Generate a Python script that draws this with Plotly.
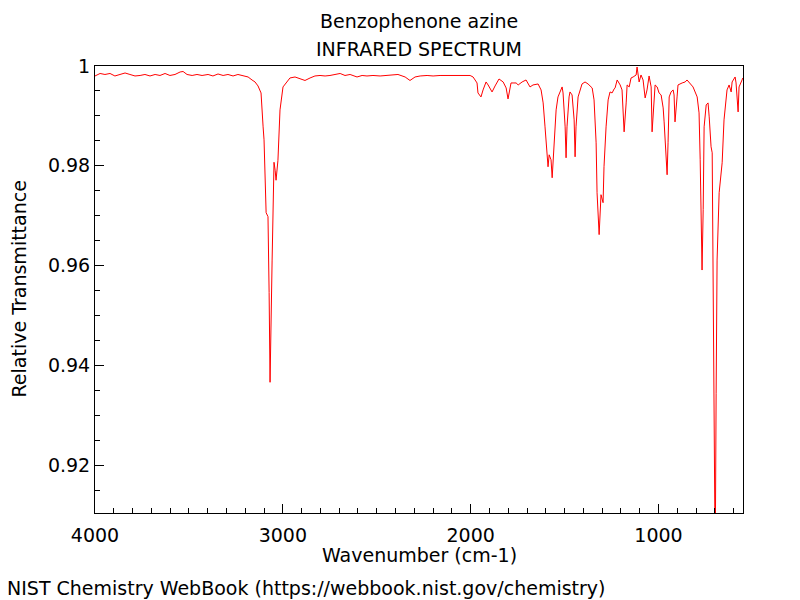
import plotly.graph_objects as go

# Wavenumber (cm-1) and relative transmittance
wavenumber = [
    4000, 3973, 3947, 3920, 3894, 3867, 3840, 3814, 3787, 3760,
    3734, 3707, 3680, 3654, 3627, 3601, 3574, 3547, 3531, 3510,
    3483, 3457, 3430, 3398, 3372, 3345, 3318, 3292, 3265, 3239,
    3212, 3185, 3164,
    3148, 3132, 3116, 3105, 3100, 3089, 3079, 3073, 3068, 3057, 3052, 3047, 3041, 3036,
    3026, 3015, 2999, 2978,
    2962, 2935, 2908, 2882, 2855, 2829, 2802, 2775, 2749, 2722,
    2695, 2669, 2642, 2605, 2578, 2552, 2520, 2482, 2445, 2413,
    2387, 2349, 2323, 2296, 2269, 2232, 2200, 2163, 2126, 2094,
    2056, 2030, 2003, 1987,
    1966, 1961, 1945, 1934, 1918, 1907, 1886, 1870, 1849, 1827,
    1811, 1801, 1795, 1785, 1774, 1758, 1747, 1726, 1705, 1694, 1684, 1668, 1641, 1625,
    1614, 1604, 1593, 1588, 1582, 1572, 1566, 1556, 1545, 1535, 1513, 1508, 1497, 1492,
    1487, 1476, 1471, 1460, 1449, 1444, 1439, 1428, 1407, 1391, 1375, 1353, 1343, 1332,
    1327, 1316, 1311, 1306, 1295, 1290, 1279, 1268, 1258, 1247, 1236, 1231, 1220, 1204,
    1194, 1188, 1183, 1172, 1167, 1156, 1146, 1135, 1119, 1114, 1103, 1093, 1082, 1071,
    1061, 1050, 1039, 1034, 1023, 1018, 1007, 997, 986, 975, 970, 959, 954, 949,
    943, 933, 922, 917, 912, 901, 896, 874, 858, 848, 832, 816, 794, 784,
    778, 773, 768, 762, 757, 746, 736, 730, 720, 714, 709, 704, 698, 693,
    688, 677, 667, 661, 651, 635, 624, 613, 608, 592, 587, 576, 571, 560,
    555, 551,
]
transmittance = [
    0.9980, 0.9985, 0.9983, 0.9985, 0.9980, 0.9983, 0.9986, 0.9983, 0.9980, 0.9981,
    0.9983, 0.9980, 0.9983, 0.9981, 0.9985, 0.9981, 0.9983, 0.9988, 0.9989, 0.9983,
    0.9981, 0.9983, 0.9981, 0.9983, 0.9980, 0.9984, 0.9981, 0.9983, 0.9980, 0.9983,
    0.9981, 0.9978, 0.9972,
    0.9968, 0.9960, 0.9946, 0.9878, 0.9852, 0.9706, 0.9698, 0.9546, 0.9366, 0.9611, 0.9731, 0.9807, 0.9791, 0.9771,
    0.9811, 0.9912, 0.9958, 0.9968,
    0.9976, 0.9978, 0.9975, 0.9971, 0.9976, 0.9980, 0.9981, 0.9980, 0.9981, 0.9983,
    0.9985, 0.9981, 0.9983, 0.9978, 0.9981, 0.9980, 0.9981, 0.9980, 0.9981, 0.9983,
    0.9983, 0.9978, 0.9971, 0.9978, 0.9980, 0.9981, 0.9980, 0.9981, 0.9981, 0.9980,
    0.9981, 0.9980, 0.9981, 0.9978,
    0.9966, 0.9946, 0.9938, 0.9952, 0.9968, 0.9962, 0.9948, 0.9960, 0.9974, 0.9968,
    0.9956, 0.9934, 0.9946, 0.9966, 0.9966, 0.9966, 0.9962, 0.9968, 0.9972, 0.9966, 0.9958, 0.9962, 0.9964, 0.9952,
    0.9926, 0.9878, 0.9826, 0.9798, 0.9822, 0.9812, 0.9776, 0.9838, 0.9912, 0.9938, 0.9958, 0.9946, 0.9878, 0.9816,
    0.9878, 0.9938, 0.9948, 0.9942, 0.9892, 0.9818, 0.9878, 0.9938, 0.9964, 0.9968, 0.9964, 0.9956, 0.9932, 0.9846,
    0.9746, 0.9662, 0.9712, 0.9742, 0.9726, 0.9798, 0.9878, 0.9932, 0.9948, 0.9946, 0.9954, 0.9956, 0.9972, 0.9962,
    0.9952, 0.9912, 0.9868, 0.9926, 0.9962, 0.9958, 0.9976, 0.9978, 0.9982, 0.9998, 0.9968, 0.9982, 0.9972, 0.9936,
    0.9952, 0.9980, 0.9958, 0.9868, 0.9926, 0.9962, 0.9958, 0.9946, 0.9942, 0.9916, 0.9888, 0.9826, 0.9782, 0.9846,
    0.9938, 0.9948, 0.9952, 0.9942, 0.9888, 0.9938, 0.9962, 0.9966, 0.9968, 0.9972, 0.9966, 0.9958, 0.9938, 0.9906,
    0.9812, 0.9712, 0.9591, 0.9712, 0.9878, 0.9922, 0.9926, 0.9898, 0.9838, 0.9826, 0.9611, 0.9344, 0.9000, 0.9344,
    0.9611, 0.9746, 0.9786, 0.9806, 0.9892, 0.9952, 0.9962, 0.9948, 0.9968, 0.9978, 0.9966, 0.9908, 0.9958, 0.9966,
    0.9972, 0.9976,
]
n = min(len(wavenumber), len(transmittance))
wavenumber, transmittance = wavenumber[:n], transmittance[:n]

title_line1 = "Benzophenone azine"
title_line2 = "INFRARED SPECTRUM"
x_title = "Wavenumber (cm-1)"
y_title = "Relative Transmittance"
footer = "NIST Chemistry WebBook (https://webbook.nist.gov/chemistry)"

FONT = "DejaVu Sans"
FS = 19

fig = go.Figure()
fig.add_trace(go.Scatter(
    x=wavenumber, y=transmittance, mode="lines",
    line=dict(color="#ff0000", width=1), showlegend=False, hoverinfo="x+y",
))

axis_common = dict(
    showgrid=False, zeroline=False, showline=True, linecolor="black", linewidth=1,
    mirror=True, ticks="inside", ticklen=9, tickwidth=1, tickcolor="black",
    tickfont=dict(family=FONT, size=FS, color="black"),
)

fig.update_xaxes(
    range=[4000, 550], tick0=0, dtick=1000, ticklabelstandoff=5,
    minor=dict(dtick=100, ticks="inside", ticklen=5, tickwidth=1, tickcolor="black", showgrid=False),
    **axis_common,
)
fig.update_yaxes(
    range=[0.9104, 1.0], tick0=0.92, dtick=0.02,
    minor=dict(dtick=0.005, ticks="inside", ticklen=5, tickwidth=1, tickcolor="black", showgrid=False),
    **axis_common,
)

ph = 600 - 66 - 87
pw = 800 - 95 - 57

def py(y_px):
    return (600 - 87 - y_px) / ph

def px(x_px):
    return (x_px - 95) / pw

annots = [
    dict(text=title_line1, x=0.5, y=py(21), xref="paper", yref="paper",
         xanchor="center", yanchor="middle", showarrow=False),
    dict(text=title_line2, x=0.5, y=py(49), xref="paper", yref="paper",
         xanchor="center", yanchor="middle", showarrow=False),
    dict(text=x_title, x=0.5, y=py(555), xref="paper", yref="paper",
         xanchor="center", yanchor="middle", showarrow=False),
    dict(text=y_title, x=px(18), y=0.5, xref="paper", yref="paper",
         xanchor="center", yanchor="middle", showarrow=False, textangle=-90),
    dict(text=footer, x=px(5), y=py(588), xref="paper", yref="paper",
         xanchor="left", yanchor="middle", showarrow=False),
]
for a in annots:
    a["font"] = dict(family=FONT, size=FS, color="black")

fig.update_layout(
    width=800, height=600, autosize=False,
    margin=dict(l=95, r=57, t=66, b=87, pad=0),
    paper_bgcolor="white", plot_bgcolor="white",
    font=dict(family=FONT, size=FS, color="black"),
    annotations=annots,
)

fig.write_html(
    "out.html",
    config={"displayModeBar": False},
    post_script="document.body.style.margin='0';document.body.style.padding='0';",
)
